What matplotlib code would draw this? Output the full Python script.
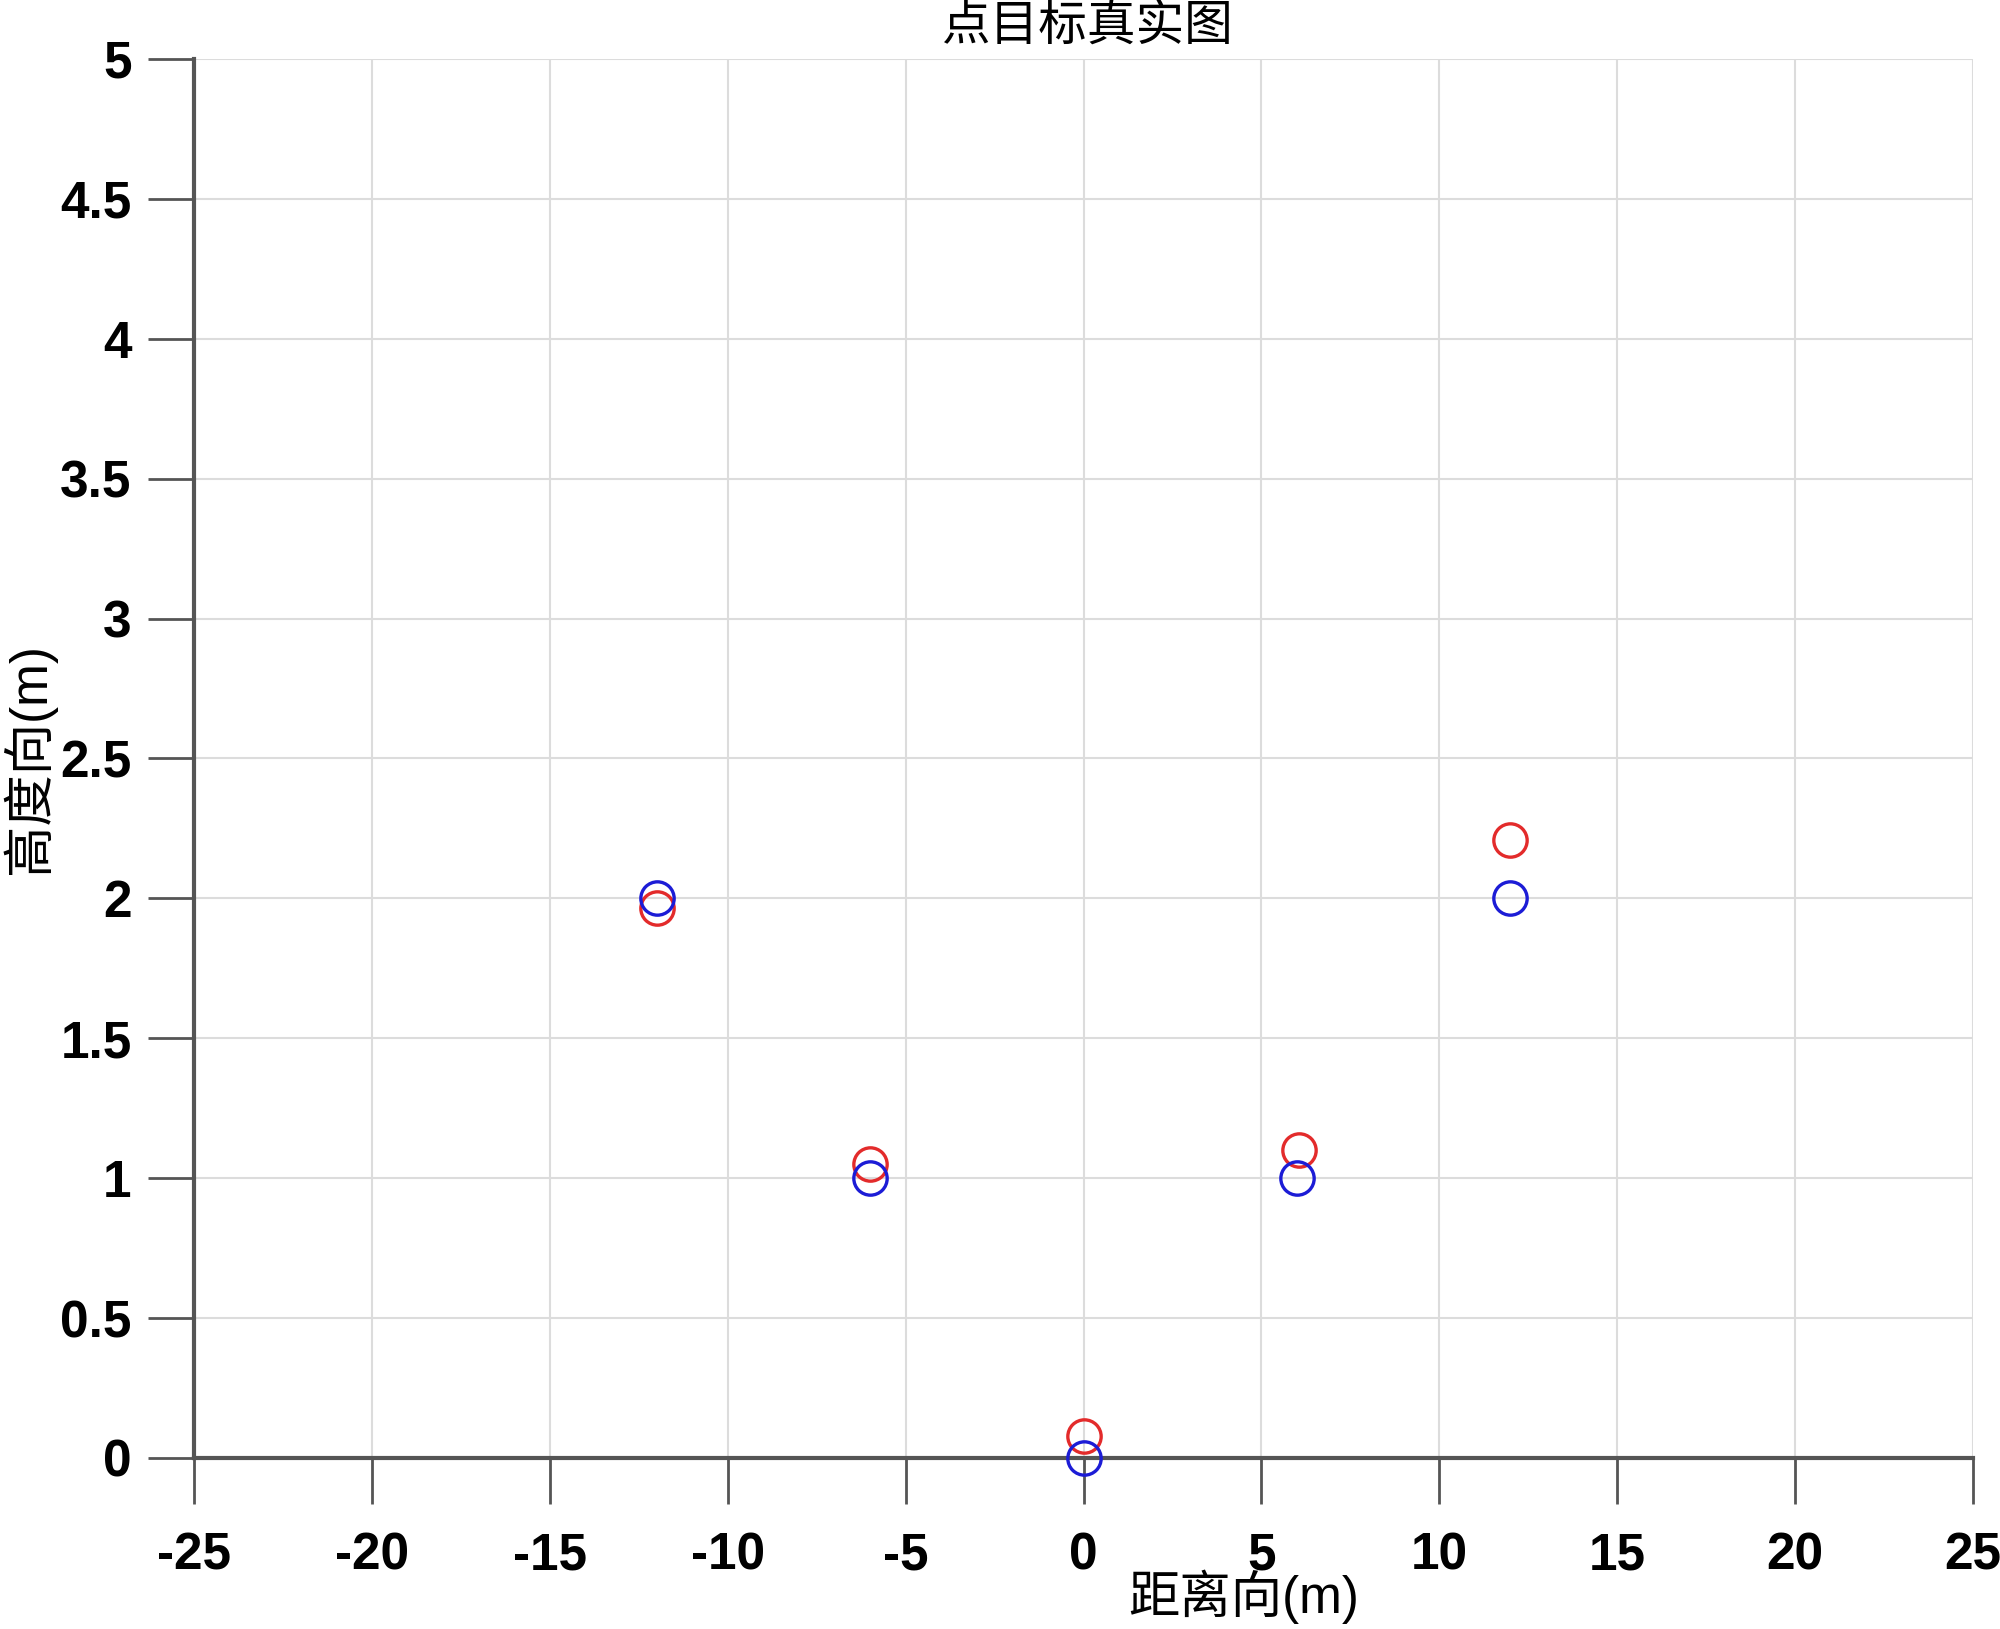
import matplotlib
matplotlib.use("Agg")
import matplotlib.pyplot as plt

# point targets: true positions (blue) and estimated positions (red)
true_x = [-12, -6, 0, 6, 12]
true_y = [2.0, 1.0, 0.0, 1.0, 2.0]
est_x = [-12, -6, 0, 6.05, 12]
est_y = [1.965, 1.05, 0.08, 1.1, 2.21]

x_ticks = [-25, -20, -15, -10, -5, 0, 5, 10, 15, 20, 25]
y_ticks = [0, 0.5, 1, 1.5, 2, 2.5, 3, 3.5, 4, 4.5, 5]
y_tick_labels = ["0", "0.5", "1", "1.5", "2", "2.5", "3", "3.5", "4", "4.5", "5"]

title = "点目标真实图"
x_label = "距离向(m)"
y_label = "高度向(m)"

plt.rcParams["font.family"] = ["Liberation Sans", "Noto Sans CJK SC", "DejaVu Sans"]
plt.rcParams["axes.unicode_minus"] = False

fig = plt.figure(figsize=(20, 16.29), dpi=100)
ax = fig.add_axes([0.097, 0.105, 0.8895, 0.8588])

ax.plot(est_x, est_y, "o", mfc="none", mec="#e32b2b", mew=2.4, ms=24, zorder=6, clip_on=False)
ax.plot(true_x, true_y, "o", mfc="none", mec="#1c1cd6", mew=2.4, ms=24, zorder=7, clip_on=False)

ax.set_xlim(-25, 25)
ax.set_ylim(0, 5)
ax.set_xticks(x_ticks)
ax.set_yticks(y_ticks)
ax.set_yticklabels(y_tick_labels)

ax.grid(True, color="#dcdcdc", linewidth=1.5)
ax.set_axisbelow(True)

for s in ["top", "right"]:
    ax.spines[s].set_visible(False)
for s in ["left", "bottom"]:
    ax.spines[s].set_color("#555555")
    ax.spines[s].set_linewidth(3)
    ax.spines[s].set_zorder(5)

ax.tick_params(axis="both", direction="out", length=33, width=2, color="#555555",
               labelsize=37)
ax.tick_params(axis="x", pad=20)
ax.tick_params(axis="y", pad=12)
for lbl in ax.get_xticklabels() + ax.get_yticklabels():
    lbl.set_fontweight("bold")

ax.set_xlabel(x_label, fontsize=37, va="center")
ax.xaxis.set_label_coords(0.59, -0.099)
ax.set_ylabel(y_label, fontsize=37, va="center")
ax.yaxis.set_label_coords(-0.093, 0.5)

ax.text(0.5025, 1.0236, title, transform=ax.transAxes, ha="center", va="center",
        fontsize=35, family=["Noto Sans CJK SC", "DejaVu Sans"])

fig.savefig("out.png", dpi=100, facecolor="white")
